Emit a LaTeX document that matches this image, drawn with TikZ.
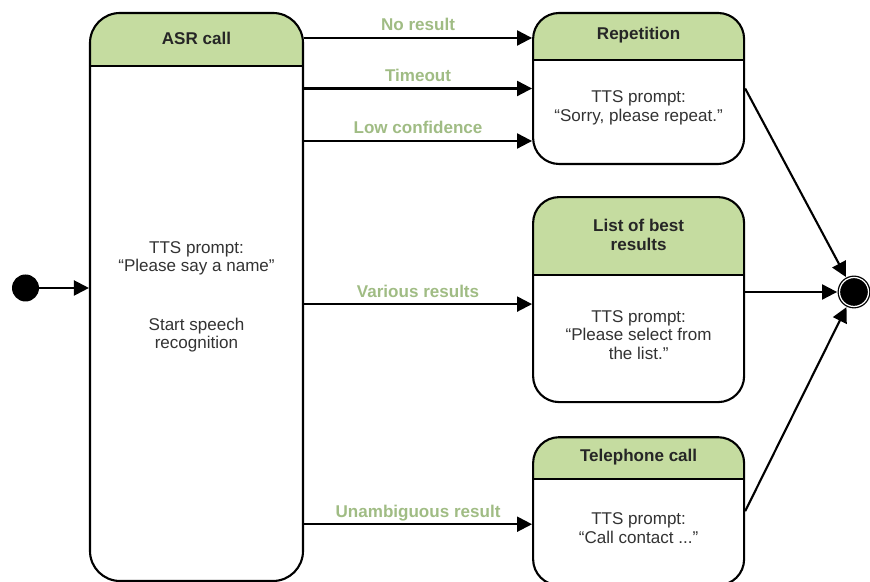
\documentclass[tikz,border=0pt]{standalone}
\usepackage{fontspec}
\setmainfont{Liberation Sans}
\usepackage{tikz}
\usetikzlibrary{shapes.geometric, arrows.meta, calc, positioning}
\definecolor{headgreen}{HTML}{C5DCA0}
\definecolor{condgreen}{HTML}{A0BC84}
\definecolor{promptgray}{HTML}{333333}
\newcommand{\dfont}{\fontsize{9.7pt}{10.5pt}\selectfont}
\tikzstyle{state} = [rectangle, rounded corners=0.52cm, line width=1.2pt, draw=black, fill=white, inner sep=0pt, minimum width=4.22cm]
\tikzstyle{title} = [font=\dfont\bfseries, text=black!85, align=center]
\tikzstyle{prompt} = [font=\dfont, text=promptgray, align=center]
\tikzstyle{cond} = [above=0.12cm, text depth=0pt, inner sep=0pt, font=\dfont\bfseries, text=condgreen]
\tikzstyle{pseudo} = [circle, fill=black, inner sep=0pt, minimum size=0.54cm]
\tikzstyle{arrow} = [line width=1.2pt, -{Triangle[length=0.3cm, width=0.3cm]}]
\tikzset{header/.style={path picture={
	\fill[headgreen, sharp corners] (path picture bounding box.north west) rectangle ([yshift=-#1]path picture bounding box.north east);
	\draw[line width=1.2pt, sharp corners] ([yshift=-#1]path picture bounding box.north west) -- ([yshift=-#1]path picture bounding box.north east);
}}}

\begin{document}
\begin{tikzpicture}
		\useasboundingbox (0,0) rectangle (17.4,11.64);
		\node (ASRcall) [state, header=1.06cm, rounded corners=0.6cm, minimum width=4.26cm, minimum height=11.36cm] at (3.93,5.70) {};
		\node (Repetition) [state, header=0.94cm, minimum height=3.02cm, right=4.56cm of ASRcall.north east, anchor=north west] {};
		\node (ListBest) [state, header=1.56cm, minimum height=4.10cm, below=0.62cm of Repetition] {};
		\node (TelCall) [state, header=0.84cm, minimum height=2.96cm, below=0.66cm of ListBest] {};
		\node (Start) [pseudo] at (0.51,5.88) {};
		\node (End) [pseudo, minimum size=0.58cm, draw=black, line width=0.75pt, double=white, double distance=0.7pt] at (17.08,5.80) {};

		\node (ASRtitle) [title] at ($(ASRcall.north)+(0,-0.53)$) {ASR call};
		\node (Reptitle) [title] at ($(Repetition.north)+(0,-0.47)$) {Repetition};
		\node (Listtitle) [title] at ($(ListBest.north)+(0,-0.78)$) {List of best\\results};
		\node (Teltitle) [title] at ($(TelCall.north)+(0,-0.42)$) {Telephone call};

		\node (ASRtext) [prompt] at (ASRcall) {TTS prompt:\\“Please say a name”\\[0.8cm]Start speech\\recognition};
		\node (Reptext) [prompt] at ([yshift=-0.39cm]Repetition.center) {TTS prompt:\\“Sorry, please repeat.”};
		\node (Listtext) [prompt] at ([yshift=-0.71cm]ListBest.center) {TTS prompt:\\“Please select from\\the list.”};
		\node (Teltext) [prompt] at ([yshift=-0.34cm]TelCall.center) {TTS prompt:\\“Call contact ...”};

		\path ([yshift=1.01cm]Repetition.west) coordinate (RepIn1);
		\path ([yshift=-1.05cm]Repetition.west) coordinate (RepIn3);
		\path ([yshift=-0.09cm]ListBest.west) coordinate (ListIn);
		\path ([yshift=-0.26cm]TelCall.west) coordinate (TelIn);

		\draw [arrow] (Start) -- (Start -| ASRcall.west);
		\draw [arrow] (RepIn1 -| ASRcall.east) -- node[cond]{No result} (RepIn1);
		\draw [arrow] (Repetition.west -| ASRcall.east) -- node[cond]{Timeout} (Repetition.west);
		\draw [arrow] (RepIn3 -| ASRcall.east) -- node[cond]{Low confidence} (RepIn3);
		\draw [arrow] (ListIn -| ASRcall.east) -- node[cond]{Various results} (ListIn);
		\draw [arrow] (TelIn -| ASRcall.east) -- node[cond]{Unambiguous result} (TelIn);

		\draw [arrow, shorten >=1pt] (Repetition.east) -- (End);
		\draw [arrow, shorten >=1pt] (ListBest.east |- End) -- (End);
		\draw [arrow, shorten >=1pt] (TelCall.east) -- (End);
\end{tikzpicture}
\end{document}
